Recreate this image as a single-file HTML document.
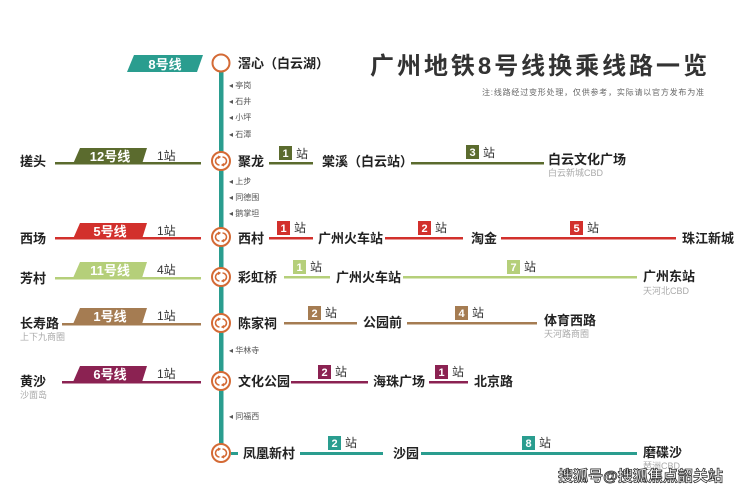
<!DOCTYPE html>
<html><head><meta charset="utf-8"><style>
html,body{margin:0;padding:0;background:#fff;width:740px;height:493px;overflow:hidden}
svg text{font-family:"Liberation Sans","Noto Sans CJK SC",sans-serif}
.st{font-size:13px;font-weight:bold;fill:#222}
.sm{font-size:8px;fill:#555}
.sub{font-size:9px;fill:#aaa}
.bn{font-size:11px;font-weight:bold;fill:#fff}
.zh{font-size:12px;fill:#333}
.bl{font-size:13px;font-weight:bold;fill:#fff}
</style></head><body>
<svg width="740" height="493" viewBox="0 0 740 493" xmlns="http://www.w3.org/2000/svg">
<defs>
<g id="ic"><circle r="9" fill="#fff" stroke="#d46a35" stroke-width="2"/><path d="M-1.5,-4 A4,4 0 0 0 -1.5,4 M1.5,4 A4,4 0 0 0 1.5,-4" fill="none" stroke="#d46a35" stroke-width="1.6"/><path d="M-3,-5 L-1,-4 L-3,-2.5 M3,5 L1,4 L3,2.5" fill="none" stroke="#d46a35" stroke-width="1.2"/></g>
</defs>
<text x="370" y="74" font-size="24" font-weight="bold" fill="#333" textLength="337">广州地铁8号线换乘线路一览</text>
<text x="482" y="95" font-size="8" fill="#666" textLength="222">注:线路经过变形处理，仅供参考，实际请以官方发布为准</text>
<rect x="219" y="63" width="4.5" height="390" fill="#2a9d8f"/>
<circle cx="221" cy="63" r="8.5" fill="#fff" stroke="#d46a35" stroke-width="2"/>
<polygon points="134,55 203,55 197,72 127,72" fill="#2a9d8f"/>
<text x="165" y="69" class="bn" style="font-size:13px" text-anchor="middle">8号线</text>
<text x="238" y="68" class="st">滘心（白云湖）</text>
<g class="sm">
<text x="229" y="88">◂ 亭岗</text><text x="229" y="104">◂ 石井</text><text x="229" y="120">◂ 小坪</text><text x="229" y="137">◂ 石潭</text>
<text x="229" y="184">◂ 上步</text><text x="229" y="200">◂ 同德围</text><text x="229" y="216">◂ 鹅掌坦</text>
<text x="229" y="353">◂ 华林寺</text><text x="229" y="419">◂ 同福西</text>
</g>
<g>
<text x="20" y="166" class="st">搓头</text>
<rect x="55" y="162" width="146" height="2.5" fill="#5b6b2e"/>
<polygon points="80,148 147,148 142,164 73,164" fill="#5b6b2e"/>
<text x="110" y="161" class="bl" text-anchor="middle">12号线</text>
<text x="157" y="160" class="zh">1站</text>

<text x="20" y="243" class="st">西场</text>
<rect x="55" y="237" width="146" height="2.5" fill="#d2302c"/>
<polygon points="80,223 147,223 142,239 73,239" fill="#d2302c"/>
<text x="110" y="236" class="bl" text-anchor="middle">5号线</text>
<text x="157" y="235" class="zh">1站</text>

<text x="20" y="283" class="st">芳村</text>
<rect x="55" y="277" width="146" height="2.5" fill="#b5cf7a"/>
<polygon points="80,262 147,262 142,278 73,278" fill="#b5cf7a"/>
<text x="110" y="275" class="bl" text-anchor="middle">11号线</text>
<text x="157" y="274" class="zh">4站</text>

<text x="20" y="328" class="st">长寿路</text>
<text x="20" y="340" class="sub">上下九商圈</text>
<rect x="62" y="323" width="139" height="2.5" fill="#a57c52"/>
<polygon points="80,308 147,308 142,324 73,324" fill="#a57c52"/>
<text x="110" y="321" class="bl" text-anchor="middle">1号线</text>
<text x="157" y="320" class="zh">1站</text>

<text x="20" y="386" class="st">黄沙</text>
<text x="20" y="398" class="sub">沙面岛</text>
<rect x="62" y="381" width="139" height="2.5" fill="#8b2252"/>
<polygon points="80,366 147,366 142,382 73,382" fill="#8b2252"/>
<text x="110" y="379" class="bl" text-anchor="middle">6号线</text>
<text x="157" y="378" class="zh">1站</text>
</g>
<use href="#ic" x="221" y="161"/><use href="#ic" x="221" y="237"/><use href="#ic" x="221" y="277"/>
<use href="#ic" x="221" y="323"/><use href="#ic" x="221" y="381"/><use href="#ic" x="221" y="453"/>
<text x="238" y="166" class="st">聚龙</text>
<rect x="269" y="162" width="44" height="2.5" fill="#5b6b2e"/>
<rect x="279" y="146" width="13" height="14" fill="#5b6b2e"/><text x="285.5" y="157" class="bn" text-anchor="middle">1</text><text x="296" y="158" class="zh">站</text>
<text x="322" y="166" class="st">棠溪（白云站）</text>
<rect x="411" y="162" width="133" height="2.5" fill="#5b6b2e"/>
<rect x="466" y="145" width="13" height="14" fill="#5b6b2e"/><text x="472.5" y="156" class="bn" text-anchor="middle">3</text><text x="483" y="157" class="zh">站</text>
<text x="548" y="164" class="st">白云文化广场</text>
<text x="548" y="176" class="sub">白云新城CBD</text>
<text x="238" y="243" class="st">西村</text>
<rect x="269" y="237" width="44" height="2.5" fill="#d2302c"/>
<rect x="277" y="221" width="13" height="14" fill="#d2302c"/><text x="283.5" y="232" class="bn" text-anchor="middle">1</text><text x="294" y="232" class="zh">站</text>
<text x="318" y="243" class="st" font-size="12">广州火车站</text>
<rect x="385" y="237" width="78" height="2.5" fill="#d2302c"/>
<rect x="418" y="221" width="13" height="14" fill="#d2302c"/><text x="424.5" y="232" class="bn" text-anchor="middle">2</text><text x="435" y="232" class="zh">站</text>
<text x="471" y="243" class="st">淘金</text>
<rect x="501" y="237" width="175" height="2.5" fill="#d2302c"/>
<rect x="570" y="221" width="13" height="14" fill="#d2302c"/><text x="576.5" y="232" class="bn" text-anchor="middle">5</text><text x="587" y="232" class="zh">站</text>
<text x="682" y="243" class="st">珠江新城</text>
<text x="238" y="282" class="st">彩虹桥</text>
<rect x="284" y="276" width="46" height="2.5" fill="#b5cf7a"/>
<rect x="293" y="260" width="13" height="14" fill="#b5cf7a"/><text x="299.5" y="271" class="bn" text-anchor="middle">1</text><text x="310" y="271" class="zh">站</text>
<text x="336" y="282" class="st" font-size="12">广州火车站</text>
<rect x="403" y="276" width="234" height="2.5" fill="#b5cf7a"/>
<rect x="507" y="260" width="13" height="14" fill="#b5cf7a"/><text x="513.5" y="271" class="bn" text-anchor="middle">7</text><text x="524" y="271" class="zh">站</text>
<text x="643" y="281" class="st">广州东站</text>
<text x="643" y="294" class="sub">天河北CBD</text>
<text x="238" y="328" class="st">陈家祠</text>
<rect x="284" y="322" width="73" height="2.5" fill="#a57c52"/>
<rect x="308" y="306" width="13" height="14" fill="#a57c52"/><text x="314.5" y="317" class="bn" text-anchor="middle">2</text><text x="325" y="317" class="zh">站</text>
<text x="363" y="327" class="st" font-size="12">公园前</text>
<rect x="407" y="322" width="130" height="2.5" fill="#a57c52"/>
<rect x="455" y="306" width="13" height="14" fill="#a57c52"/><text x="461.5" y="317" class="bn" text-anchor="middle">4</text><text x="472" y="317" class="zh">站</text>
<text x="544" y="325" class="st">体育西路</text>
<text x="544" y="337" class="sub">天河路商圈</text>
<text x="238" y="386" class="st">文化公园</text>
<rect x="291" y="381" width="77" height="2.5" fill="#8b2252"/>
<rect x="318" y="365" width="13" height="14" fill="#8b2252"/><text x="324.5" y="376" class="bn" text-anchor="middle">2</text><text x="335" y="376" class="zh">站</text>
<text x="373" y="386" class="st" font-size="12">海珠广场</text>
<rect x="429" y="381" width="39" height="2.5" fill="#8b2252"/>
<rect x="435" y="365" width="13" height="14" fill="#8b2252"/><text x="441.5" y="376" class="bn" text-anchor="middle">1</text><text x="452" y="376" class="zh">站</text>
<text x="474" y="386" class="st" font-size="12">北京路</text>
<rect x="231" y="452" width="7" height="3" fill="#2a9d8f"/>
<text x="243" y="458" class="st">凤凰新村</text>
<rect x="300" y="452" width="83" height="3" fill="#2a9d8f"/>
<rect x="328" y="436" width="13" height="14" fill="#2a9d8f"/><text x="334.5" y="447" class="bn" text-anchor="middle">2</text><text x="345" y="447" class="zh">站</text>
<text x="393" y="458" class="st" font-size="12">沙园</text>
<rect x="421" y="452" width="216" height="3" fill="#2a9d8f"/>
<rect x="522" y="436" width="13" height="14" fill="#2a9d8f"/><text x="528.5" y="447" class="bn" text-anchor="middle">8</text><text x="539" y="447" class="zh">站</text>
<text x="643" y="457" class="st">磨碟沙</text>
<text x="643" y="469" class="sub">琶洲CBD</text>
<text x="558" y="481" font-size="15" font-weight="bold" fill="#fff" stroke="#333" stroke-width="0.8" textLength="165">搜狐号@搜狐焦点韶关站</text>
</svg>
</body></html>
